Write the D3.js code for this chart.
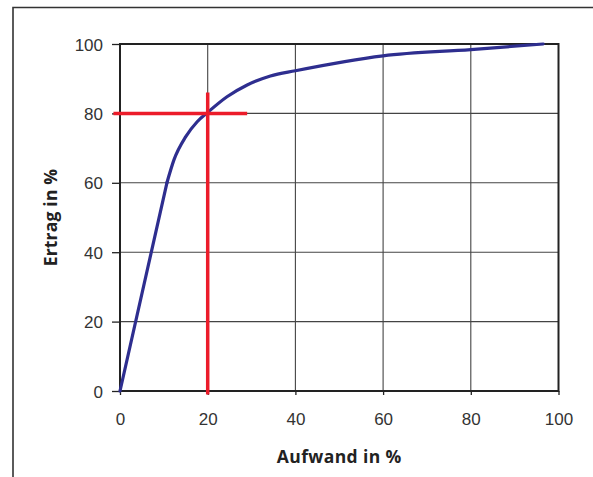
<!DOCTYPE html>
<html lang="de">
<head>
<meta charset="UTF-8">
<title>Ertrag / Aufwand</title>
<script src="https://d3js.org/d3.v7.min.js"></script>
<style>
  body { margin: 0; background: #fff; font-family: "Open Sans", "Noto Sans", sans-serif; }
  .tick text { fill: #333; font-size: 17px; }
</style>
</head>
<body>
<svg id="chart" width="593" height="477"></svg>
<script>
    // curve values (Aufwand %, Ertrag %)
    const aufwand = [0, 10.7, 12.3, 15, 17.6, 20, 24.4, 29, 34.3, 40, 60, 80, 96.5];
    const ertrag  = [0, 60, 66.6, 73.3, 77.6, 80.3, 84.8, 88.2, 90.8, 92.3, 96.6, 98.4, 100];
    const xTicks = [0, 20, 40, 60, 80, 100];
    const yTicks = [0, 20, 40, 60, 80, 100];
    // red marker cross at 20 % / 80 %
    const markX = [-1.5, 29];
    const markY = [-1, 86];
    const markAt = [20, 80];

    const svg = d3.select("#chart");
    const pL = 120, pR = 558.5, pT = 44, pB = 391;

    const x = d3.scaleLinear().domain([0, 100]).range([pL, pR]);
    const y = d3.scaleLinear().domain([0, 100]).range([pB, pT]);

    // outer frame (only top and left visible)
    svg.append("path")
        .attr("d", "M13,477V7.5H593")
        .attr("fill", "none").attr("stroke", "#333").attr("stroke-width", 1.6);

    // grid
    svg.append("g").selectAll("line").data(xTicks.slice(1, -1)).join("line")
        .attr("x1", d => x(d)).attr("x2", d => x(d))
        .attr("y1", pT).attr("y2", pB)
        .attr("stroke", "#444").attr("stroke-width", 1.1);
    svg.append("g").selectAll("line").data(yTicks.slice(1, -1)).join("line")
        .attr("x1", pL).attr("x2", pR)
        .attr("y1", d => y(d)).attr("y2", d => y(d))
        .attr("stroke", "#444").attr("stroke-width", 1.1);

    // axes
    const xAxis = svg.append("g").attr("transform", `translate(0,${pB})`)
        .call(d3.axisBottom(x).tickValues(xTicks).tickSize(4).tickPadding(18));
    const yAxis = svg.append("g").attr("transform", `translate(${pL},0)`)
        .call(d3.axisLeft(y).tickValues(yTicks).tickSize(8).tickPadding(9));
    [xAxis, yAxis].forEach(a => {
        a.select(".domain").remove();
        a.selectAll(".tick line").attr("stroke", "#222").attr("stroke-width", 1.3);
    });
    yAxis.selectAll(".tick text").attr("dy", "0.36em");

    // plot box
    svg.append("rect")
        .attr("x", pL).attr("y", pT)
        .attr("width", pR - pL).attr("height", pB - pT)
        .attr("fill", "none").attr("stroke", "#222").attr("stroke-width", 2);

    // curve: straight first segment, smooth after the knee
    const pts = aufwand.map((a, i) => [a, ertrag[i]]);
    const straight = d3.line().x(d => x(d[0])).y(d => y(d[1]));
    const smooth = d3.line().x(d => x(d[0])).y(d => y(d[1])).curve(d3.curveMonotoneX);
    [[straight, pts.slice(0, 2)], [smooth, pts.slice(1)]].forEach(([gen, data]) => {
        svg.append("path")
            .datum(data)
            .attr("d", gen)
            .attr("fill", "none").attr("stroke", "#2e2e8f")
            .attr("stroke-width", 3.2).attr("stroke-linecap", "round");
    });

    // red cross
    svg.append("line")
        .attr("x1", x(markX[0])).attr("x2", x(markX[1]))
        .attr("y1", y(markAt[1])).attr("y2", y(markAt[1]))
        .attr("stroke", "#ec1c2a").attr("stroke-width", 3.5);
    svg.append("line")
        .attr("x1", x(markAt[0])).attr("x2", x(markAt[0]))
        .attr("y1", y(markY[0])).attr("y2", y(markY[1]))
        .attr("stroke", "#ec1c2a").attr("stroke-width", 3.5);

    // axis titles
    svg.append("text")
        .attr("x", (pL + pR) / 2).attr("y", 463)
        .attr("text-anchor", "middle")
        .attr("font-size", 17.5).attr("letter-spacing", 0.4)
        .attr("font-weight", "bold").attr("fill", "#222")
        .text("Aufwand in %");
    svg.append("text")
        .attr("transform", `translate(57,${(pT + pB) / 2}) rotate(-90)`)
        .attr("text-anchor", "middle")
        .attr("font-size", 17.5).attr("letter-spacing", 0.2)
        .attr("font-weight", "bold").attr("fill", "#222")
        .text("Ertrag in %");
</script>
</body>
</html>
